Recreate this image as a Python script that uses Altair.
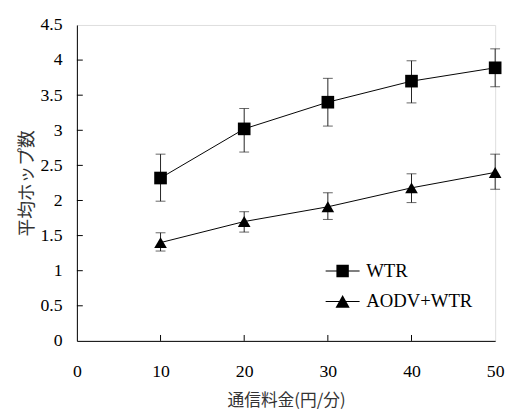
import altair as alt
import pandas as pd

# ---- data ----
fees = [10, 20, 30, 40, 50]
series_names = ["WTR", "AODV+WTR"]
wtr_mean = [2.32, 3.02, 3.40, 3.70, 3.89]
wtr_low = [1.99, 2.69, 3.06, 3.39, 3.62]
wtr_high = [2.66, 3.31, 3.74, 3.99, 4.16]
aodv_mean = [1.40, 1.70, 1.91, 2.18, 2.40]
aodv_low = [1.28, 1.55, 1.73, 1.97, 2.16]
aodv_high = [1.54, 1.84, 2.11, 2.38, 2.66]
y_axis_values = [0, 0.5, 1, 1.5, 2, 2.5, 3, 3.5, 4, 4.5]
x_axis_values = [0, 10, 20, 30, 40, 50]
y_ticks = [0.5, 1, 1.5, 2, 2.5, 3, 3.5, 4]
x_ticks = [10, 20, 30, 40]

rows = []
for name, m, lo, hi in [("WTR", wtr_mean, wtr_low, wtr_high),
                        ("AODV+WTR", aodv_mean, aodv_low, aodv_high)]:
    for f, a, b, c in zip(fees, m, lo, hi):
        rows.append({"fee": f, "series": name, "mean": a, "lo": b, "hi": c})
df = pd.DataFrame(rows)

W, H = 425, 321
SERIF = "Liberation Serif, Times New Roman, serif"
JP = "Noto Sans CJK JP"

xs = alt.Scale(domain=[0, 50], nice=False, zero=False)
ys = alt.Scale(domain=[0, 4.5], nice=False)

XAXIS = alt.Axis(title="通信料金(円/分)", values=x_axis_values,
                 ticks=False, tickSize=0, grid=False, domainColor="black",
                 labelFont=SERIF, labelFontSize=18, labelColor="black",
                 labelPadding=22, labelOverlap=False, labelFlush=False,
                 titleFont=JP, titleFontSize=17,
                 titleFontWeight="normal", titleColor="#333",
                 titlePadding=13)
YAXIS = alt.Axis(title="平均ホップ数", values=y_axis_values,
                 format=".1~f", ticks=False, tickSize=0, grid=False,
                 domainColor="black", labelFont=SERIF, labelFontSize=18,
                 labelColor="black", labelPadding=15, labelOverlap=False,
                 labelFlush=False, labelBound=False, titleFont=JP,
                 titleFontSize=18, titleFontWeight="normal",
                 titleColor="#333", titlePadding=4)


def ex(field):
    return alt.X(field, scale=xs, axis=XAXIS)


def ey(field):
    return alt.Y(field, scale=ys, axis=YAXIS)


base = alt.Chart(df)

lines = base.mark_line(color="black", strokeWidth=1).encode(
    x=ex("fee:Q"), y=ey("mean:Q"), detail="series:N")

err = base.mark_rule(color="#222", strokeWidth=1).encode(
    x=ex("fee:Q"), y=ey("lo:Q"), y2="hi:Q")
cap_lo = base.mark_tick(color="#222", orient="horizontal", size=10, thickness=1).encode(
    x=ex("fee:Q"), y=ey("lo:Q"))
cap_hi = base.mark_tick(color="#222", orient="horizontal", size=10, thickness=1).encode(
    x=ex("fee:Q"), y=ey("hi:Q"))

points = base.mark_point(filled=True, opacity=1, color="black", size=165).encode(
    x=ex("fee:Q"), y=ey("mean:Q"),
    shape=alt.Shape("series:N",
                    scale=alt.Scale(domain=series_names, range=["square", "triangle-up"]),
                    legend=None))

# legend symbols: a thin filled bar (the line) plus the marker
legend_paths = [
    "M-1.15,-0.035L1.15,-0.035L1.15,0.035L-1.15,0.035Z"
    "M-0.42,-0.42L0.42,-0.42L0.42,0.42L-0.42,0.42Z",
    "M-1.15,-0.035L1.15,-0.035L1.15,0.035L-1.15,0.035Z"
    "M0,-0.45L0.48,0.42L-0.48,0.42Z",
]
legend_layer = base.mark_point(filled=True, opacity=0, color="black").encode(
    x=ex("fee:Q"), y=ey("mean:Q"),
    shape=alt.Shape("series:N",
                    scale=alt.Scale(domain=series_names, range=legend_paths),
                    legend=alt.Legend(title=None, orient="none", legendX=255, legendY=235,
                                      symbolSize=900, symbolOpacity=1,
                                      symbolFillColor="black",
                                      symbolStrokeWidth=0, labelFont=SERIF,
                                      labelFontSize=19, labelColor="black",
                                      labelOffset=9, rowPadding=6, padding=0)))

ytick_df = pd.DataFrame({"v": y_ticks})
xtick_df = pd.DataFrame({"v": x_ticks})
yt = alt.Chart(ytick_df).mark_rule(color="black", strokeWidth=1).encode(
    y=ey("v:Q"), x=alt.value(0), x2=alt.value(6))
xt = alt.Chart(xtick_df).mark_rule(color="black", strokeWidth=1).encode(
    x=ex("v:Q"), y=alt.value(H), y2=alt.value(H - 6))

chart = alt.layer(lines, err, cap_lo, cap_hi, points, legend_layer, yt, xt).resolve_scale(
    shape="independent"
).properties(
    width=W, height=H,
    autosize=alt.AutoSizeParams(type="none"),
    padding={"left": 70, "top": 14, "right": 10, "bottom": 69},
).configure_view(stroke="#444", strokeWidth=1).configure(background="white")

chart.save("out.html", embed_options={"renderer": "svg", "actions": False})
